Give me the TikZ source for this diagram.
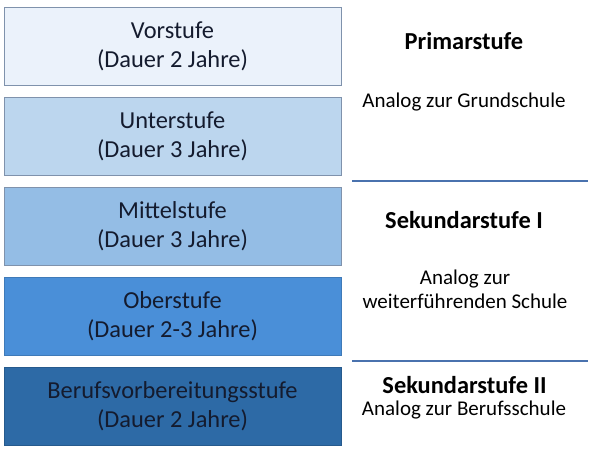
\documentclass[tikz,border=0pt]{standalone}
\usepackage{fontspec}
\setmainfont{Carlito}
\usetikzlibrary{positioning}
\definecolor{stufeA}{HTML}{EBF2FB}
\definecolor{stufeB}{HTML}{BCD6EE}
\definecolor{stufeC}{HTML}{94BDE5}
\definecolor{stufeD}{HTML}{4A8FD8}
\definecolor{stufeE}{HTML}{2D6AA6}
\definecolor{rahmen}{HTML}{7F92AC}
\definecolor{schrift}{HTML}{141B2E}
\definecolor{trenner}{HTML}{4A72AE}

\begin{document}
\begin{tikzpicture}[x=1pt, y=-1pt, node distance=11.2pt,
		stufe/.style={draw=rahmen, line width=0.8pt, minimum width=337pt, minimum height=78pt,
			align=center, text=schrift, font=\fontsize{24.4}{29}\selectfont},
		titel/.style={anchor=base, font=\bfseries\fontsize{24.4}{29}\selectfont},
		analog/.style={anchor=base, align=center, font=\fontsize{21}{24}\selectfont}]
		\useasboundingbox (0,0) rectangle (605,451);
		\node[stufe, fill=stufeA] (vor) at (172.5,46) {Vorstufe\\(Dauer 2 Jahre)};
		\node[stufe, fill=stufeB, below=of vor] (unter) {Unterstufe\\(Dauer 3 Jahre)};
		\node[stufe, fill=stufeC, below=of unter] (mittel) {Mittelstufe\\(Dauer 3 Jahre)};
		\node[stufe, fill=stufeD, draw=stufeD!85!black, below=of mittel] (ober) {Oberstufe\\(Dauer 2-3 Jahre)};
		\node[stufe, fill=stufeE, draw=stufeE!85!black, below=of ober] (beruf) {Berufsvorbereitungsstufe\\(Dauer 2 Jahre)};
		\node[titel] (prim) at (464,49) {Primarstufe};
		\node[analog] (grund) at (464,107) {Analog zur Grundschule};
		\node[titel] (sekI) at (464,228) {Sekundarstufe I};
		\node[analog] (weiter) at (465,308) {Analog zur\\weiterführenden Schule};
		\node[titel] (sekII) at (464.5,393) {Sekundarstufe II};
		\node[analog] (berufs) at (464,415) {Analog zur Berufsschule};
		\coordinate (t1a) at (352,181);
		\coordinate (t1b) at (588,181);
		\coordinate (t2a) at (352,361);
		\coordinate (t2b) at (588,361);
		\draw[trenner, line width=1.2pt]
			(t1a) -- (t1b)
			(t2a) -- (t2b);
	\end{tikzpicture}
\end{document}
